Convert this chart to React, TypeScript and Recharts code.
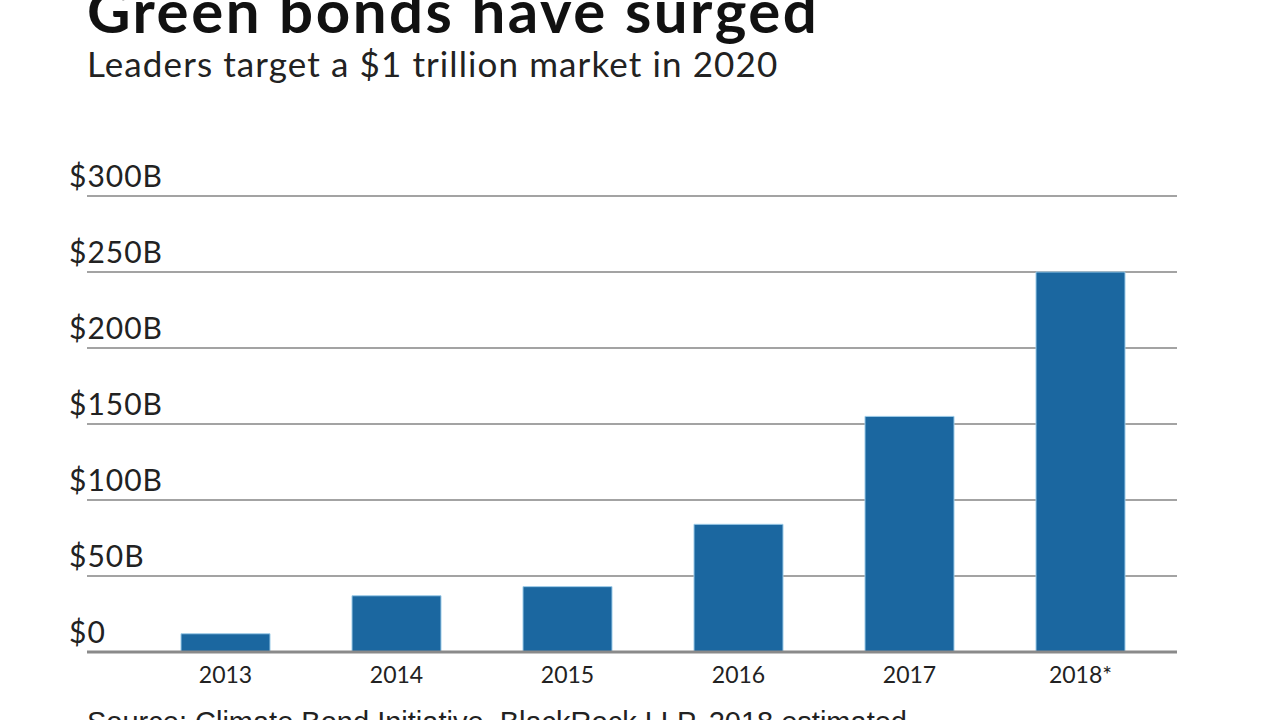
import { BarChart, Bar, XAxis, YAxis, CartesianGrid } from 'recharts';

const years = ['2013', '2014', '2015', '2016', '2017', '2018*'];
const issuance = [12, 37, 43, 84, 155, 250];
const yTicks = [0, 50, 100, 150, 200, 250, 300];
const yTickLabels = ['$0', '$50B', '$100B', '$150B', '$200B', '$250B', '$300B'];

const data = years.map((year, i) => ({ year, value: issuance[i] }));

const YTick = (props: any) => {
  const { y, payload } = props;
  return (
    <text
      x={69}
      y={y - 9}
      fill="#222"
      fontSize={30}
      letterSpacing={1}
      fontFamily="Lato, 'Open Sans', sans-serif"
      textAnchor="start"
    >
      {yTickLabels[yTicks.indexOf(payload.value)]}
    </text>
  );
};

const XTick = (props: any) => {
  const { x, y, payload } = props;
  return (
    <text
      x={x}
      y={y + 23}
      fill="#222"
      fontSize={23}
      fontFamily="Lato, 'Open Sans', sans-serif"
      textAnchor="middle"
    >
      {payload.value}
    </text>
  );
};

export default function App() {
  return (
    <div
      style={{
        position: 'absolute',
        left: 0,
        top: 0,
        width: 1280,
        height: 720,
        overflow: 'hidden',
        background: '#fff',
      }}
    >
      <div
        style={{
          position: 'absolute',
          left: 87,
          top: -26,
          fontFamily: 'Lato, sans-serif',
          fontWeight: 700,
          fontSize: 60,
          letterSpacing: 2.5,
          color: '#111',
          whiteSpace: 'nowrap',
        }}
      >
        Green bonds have surged
      </div>
      <div
        style={{
          position: 'absolute',
          left: 87,
          top: 42,
          fontFamily: 'Lato, sans-serif',
          fontWeight: 400,
          fontSize: 35,
          letterSpacing: 1.1,
          color: '#222',
          whiteSpace: 'nowrap',
        }}
      >
        Leaders target a $1 trillion market in 2020
      </div>
      <div style={{ position: 'absolute', left: 0, top: 0 }}>
        <BarChart
          width={1280}
          height={720}
          data={data}
          margin={{ top: 196, right: 103, bottom: 0, left: 0 }}
          barSize={89}
        >
          <CartesianGrid vertical={false} stroke="#a3a3a3" strokeWidth={2} />
          <YAxis
            domain={[0, 300]}
            ticks={yTicks}
            width={87}
            axisLine={false}
            tickLine={false}
            tick={YTick}
            interval={0}
          />
          <XAxis
            dataKey="year"
            height={68}
            padding={{ left: 53, right: 11 }}
            axisLine={{ stroke: '#8a8a8a', strokeWidth: 3 }}
            tickLine={false}
            tick={XTick}
            interval={0}
          />
          <Bar
            dataKey="value"
            fill="#1b67a0"
            stroke="#9ccbe8"
            strokeWidth={1}
            isAnimationActive={false}
          />
        </BarChart>
      </div>
      <div
        style={{
          position: 'absolute',
          left: 87,
          top: 706,
          fontFamily: "'Liberation Sans', Arial, sans-serif",
          fontSize: 29,
          color: '#222',
          whiteSpace: 'nowrap',
        }}
      >
        Source: Climate Bond Initiative, BlackRock LLP, 2018 estimated
      </div>
    </div>
  );
}
